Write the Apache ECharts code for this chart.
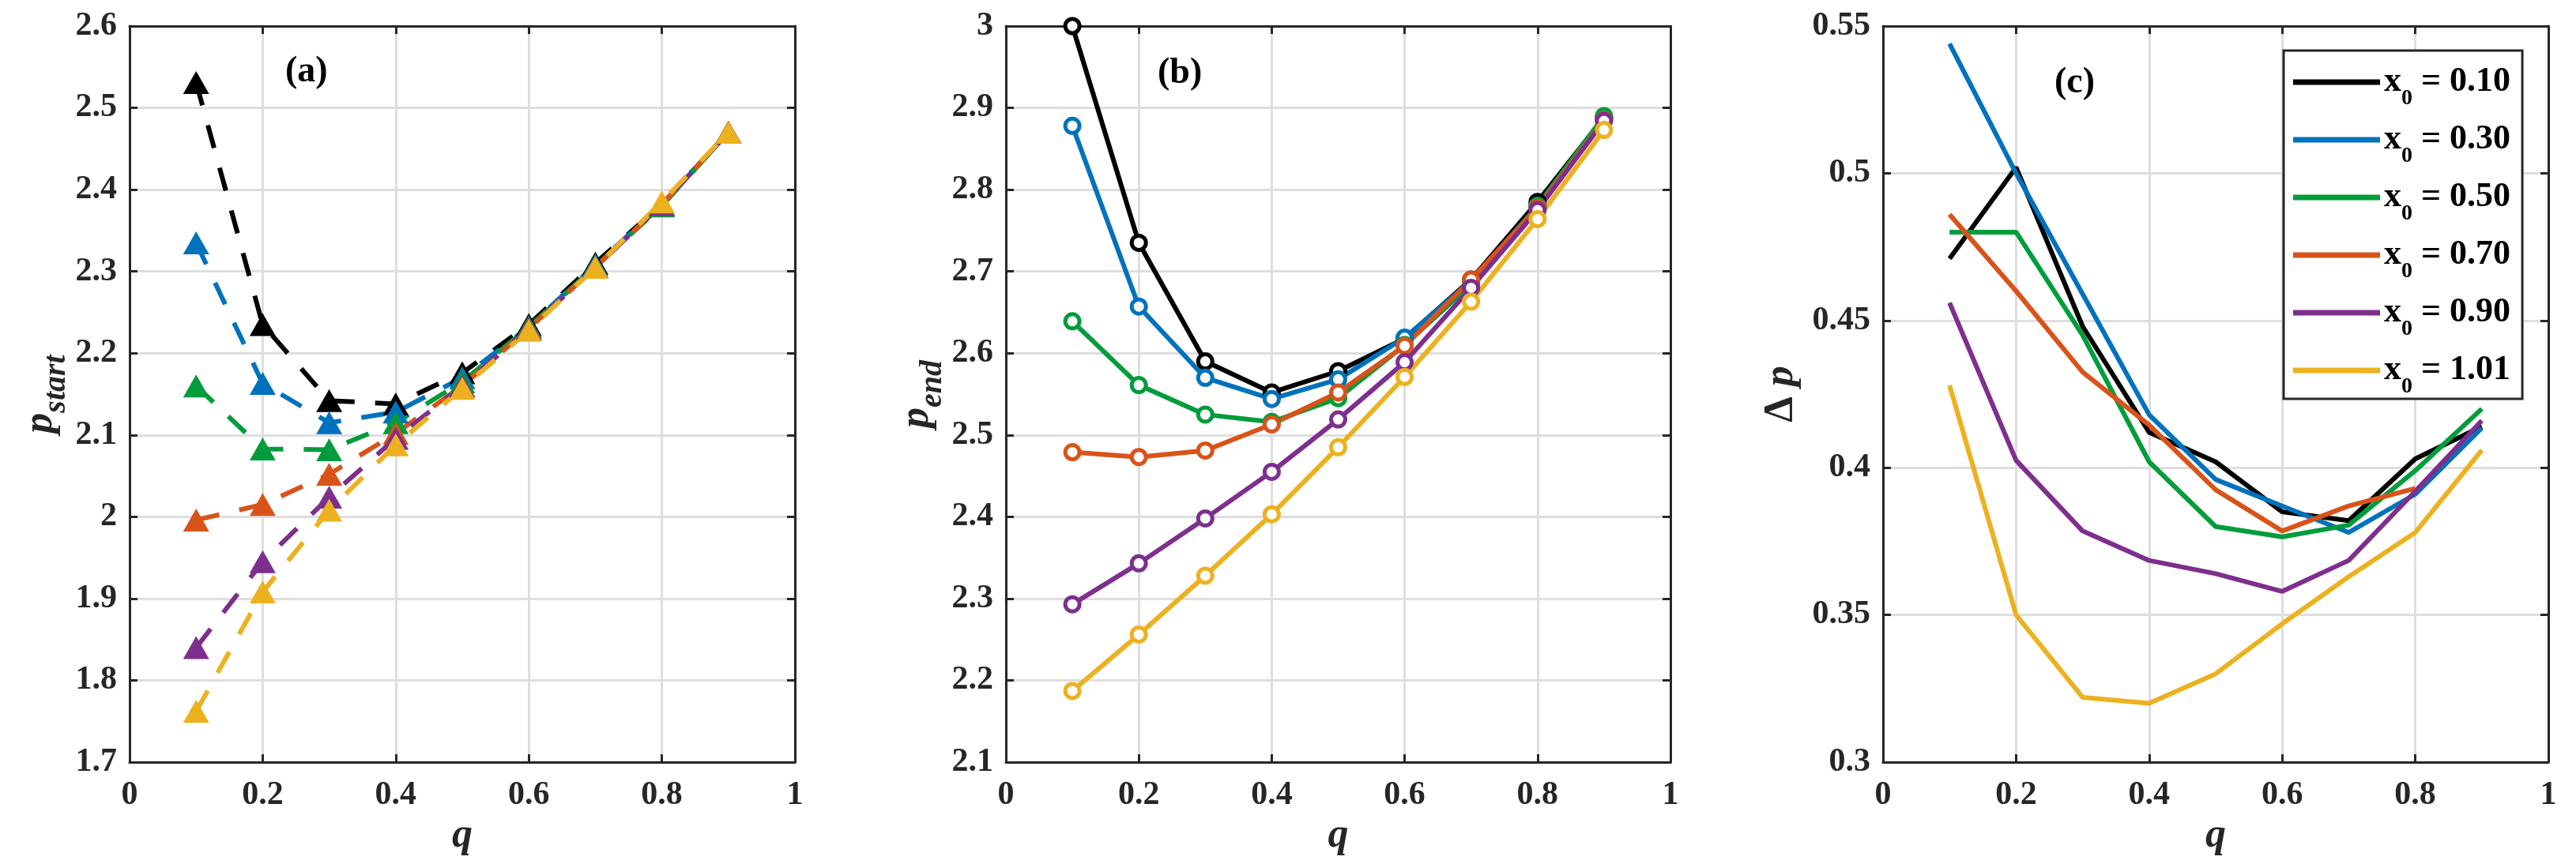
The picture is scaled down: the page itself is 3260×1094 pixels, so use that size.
<!DOCTYPE html>
<html>
<head>
<meta charset="utf-8">
<script src="https://cdn.jsdelivr.net/npm/echarts@6/dist/echarts.min.js"></script>
<style>
  html, body { margin: 0; padding: 0; background: #ffffff; }
  #chart { width: 3260px; height: 1094px; }
</style>
</head>
<body>
<div id="chart"></div>
<script>
// ---------- data ----------
const qValues = [0.1, 0.2, 0.3, 0.4, 0.5, 0.6, 0.7, 0.8, 0.9];
const x0Labels = ['0.10', '0.30', '0.50', '0.70', '0.90', '1.01'];

// (a) p_start
const pStart010 = [2.531, 2.235, 2.142, 2.138, 2.176, 2.235, 2.310, 2.382, 2.470];
const pStart030 = [2.335, 2.163, 2.115, 2.128, 2.170, 2.232, 2.308, 2.381, 2.470];
const pStart050 = [2.160, 2.083, 2.082, 2.115, 2.165, 2.232, 2.306, 2.380, 2.470];
const pStart070 = [1.996, 2.015, 2.052, 2.102, 2.160, 2.230, 2.305, 2.382, 2.470];
const pStart090 = [1.840, 1.945, 2.024, 2.096, 2.160, 2.230, 2.305, 2.382, 2.470];
const pStart101 = [1.762, 1.908, 2.008, 2.088, 2.157, 2.228, 2.305, 2.385, 2.470];

// (b) p_end
const pEnd010 = [3.000, 2.735, 2.590, 2.552, 2.578, 2.618, 2.690, 2.785, 2.888];
const pEnd030 = [2.878, 2.657, 2.570, 2.544, 2.568, 2.619, 2.688, 2.780, 2.887];
const pEnd050 = [2.639, 2.561, 2.525, 2.516, 2.545, 2.610, 2.684, 2.780, 2.890];
const pEnd070 = [2.479, 2.473, 2.481, 2.513, 2.552, 2.609, 2.690, 2.778, 2.885];
const pEnd090 = [2.293, 2.343, 2.398, 2.455, 2.519, 2.589, 2.680, 2.775, 2.884];
const pEnd101 = [2.187, 2.256, 2.328, 2.403, 2.485, 2.571, 2.663, 2.764, 2.873];

// (c) delta p
const dp010 = [0.471, 0.502, 0.448, 0.412, 0.402, 0.385, 0.382, 0.403, 0.414];
const dp030 = [0.544, 0.500, 0.459, 0.418, 0.396, 0.387, 0.378, 0.391, 0.4135];
const dp050 = [0.480, 0.480, 0.445, 0.402, 0.380, 0.3765, 0.3805, 0.399, 0.420];
const dp070 = [0.486, 0.460, 0.4325, 0.4145, 0.3925, 0.3785, 0.387, 0.393];
const dp090 = [0.456, 0.4025, 0.3785, 0.3685, 0.364, 0.358, 0.3685, 0.392, 0.416];
const dp101 = [0.428, 0.350, 0.322, 0.320, 0.330, 0.347, 0.363, 0.378, 0.406];

// ticks
const xTicks = [0, 0.2, 0.4, 0.6, 0.8, 1];
const xTickLabels = ['0', '0.2', '0.4', '0.6', '0.8', '1'];
const yTicksA = [1.7, 1.8, 1.9, 2.0, 2.1, 2.2, 2.3, 2.4, 2.5, 2.6];
const yTickLabelsA = ['1.7', '1.8', '1.9', '2', '2.1', '2.2', '2.3', '2.4', '2.5', '2.6'];
const yTicksB = [2.1, 2.2, 2.3, 2.4, 2.5, 2.6, 2.7, 2.8, 2.9, 3.0];
const yTickLabelsB = ['2.1', '2.2', '2.3', '2.4', '2.5', '2.6', '2.7', '2.8', '2.9', '3'];
const yTicksC = [0.3, 0.35, 0.4, 0.45, 0.5, 0.55];
const yTickLabelsC = ['0.3', '0.35', '0.4', '0.45', '0.5', '0.55'];

// ---------- styles ----------
const colors = ['#000000', '#0072BD', '#019C3B', '#D95319', '#7E2F8E', '#EDB120'];
const FONT = '"Liberation Serif", "Times New Roman", serif';
const AX = '#262626';

const startSets = [pStart010, pStart030, pStart050, pStart070, pStart090, pStart101];
const endSets = [pEnd010, pEnd030, pEnd050, pEnd070, pEnd090, pEnd101];
const dpSets = [dp010, dp030, dp050, dp070, dp090, dp101];

const grids = [
  { left: 164, top: 33, width: 842, height: 932 },
  { left: 1273, top: 33, width: 841, height: 932 },
  { left: 2383, top: 33, width: 842, height: 932 }
];

function labelFor(ticks, labels) {
  return function (v) {
    let best = 0, bd = Infinity;
    ticks.forEach((t, i) => { const d = Math.abs(t - v); if (d < bd) { bd = d; best = i; } });
    return bd < 1e-6 ? labels[best] : '';
  };
}

const tickStyle = { inside: true, length: 10, lineStyle: { color: AX, width: 3 } };
const lineAx = { show: true, onZero: false, lineStyle: { color: AX, width: 3 } };
const labelStyle = { fontFamily: FONT, fontWeight: 'bold', fontSize: 42, color: AX };

const xAxes = [], yAxes = [];
const yCfg = [
  { ticks: yTicksA, labels: yTickLabelsA, name: '{p|p}{s|start}', gap: 82 },
  { ticks: yTicksB, labels: yTickLabelsB, name: '{p|p}{s|end}', gap: 84 },
  { ticks: yTicksC, labels: yTickLabelsC, name: '{d|Δ }{p|p}', gap: 100 }
];
const nameRich = {
  p: { fontFamily: FONT, fontStyle: 'italic', fontWeight: 'bold', fontSize: 52, lineHeight: 56, color: AX },
  s: { fontFamily: FONT, fontStyle: 'italic', fontWeight: 'bold', fontSize: 40, lineHeight: 40, padding: [40, 0, 0, 0], color: AX },
  d: { fontFamily: FONT, fontWeight: 'bold', fontSize: 52, lineHeight: 56, color: AX }
};

grids.forEach((g, i) => {
  const yc = yCfg[i];
  const ymin = yc.ticks[0], ymax = yc.ticks[yc.ticks.length - 1];
  const yint = yc.ticks[1] - yc.ticks[0];
  xAxes.push({
    gridIndex: i, type: 'value', position: 'bottom', min: 0, max: 1, interval: 0.2,
    axisLine: lineAx, axisTick: tickStyle,
    axisLabel: Object.assign({ margin: 21, formatter: labelFor(xTicks, xTickLabels) }, labelStyle),
    splitLine: { show: true, lineStyle: { color: '#dedede', width: 3 } },
    name: 'q', nameLocation: 'middle', nameGap: 55,
    nameTextStyle: { fontFamily: FONT, fontStyle: 'italic', fontWeight: 'bold', fontSize: 52, color: AX }
  });
  xAxes.push({
    gridIndex: i, type: 'value', position: 'top', min: 0, max: 1, interval: 0.2,
    axisLine: lineAx, axisTick: tickStyle, axisLabel: { show: false }, splitLine: { show: false }
  });
  yAxes.push({
    gridIndex: i, type: 'value', position: 'left', min: ymin, max: ymax, interval: yint,
    axisLine: lineAx, axisTick: tickStyle,
    axisLabel: Object.assign({ margin: 16, formatter: labelFor(yc.ticks, yc.labels) }, labelStyle),
    splitLine: { show: true, lineStyle: { color: '#dedede', width: 3 } },
    name: yc.name, nameLocation: 'middle', nameGap: yc.gap, nameRotate: 90,
    nameTextStyle: { rich: nameRich }
  });
  yAxes.push({
    gridIndex: i, type: 'value', position: 'right', min: ymin, max: ymax, interval: yint,
    axisLine: lineAx, axisTick: tickStyle, axisLabel: { show: false }, splitLine: { show: false }
  });
});

function pairs(vals) { return vals.map((v, j) => [qValues[j], v]); }

const series = [];
startSets.forEach((vals, k) => {
  series.push({
    name: 'a' + k, type: 'line', xAxisIndex: 0, yAxisIndex: 0, data: pairs(vals),
    symbol: 'triangle', symbolSize: [33, 29], showSymbol: true,
    lineStyle: { color: colors[k], width: 6, type: [30, 26] },
    itemStyle: { color: colors[k] }, silent: true
  });
});
endSets.forEach((vals, k) => {
  series.push({
    name: 'b' + k, type: 'line', xAxisIndex: 2, yAxisIndex: 2, data: pairs(vals),
    symbol: 'circle', symbolSize: 18, showSymbol: true, clip: false,
    lineStyle: { color: colors[k], width: 6 },
    itemStyle: { color: '#ffffff', borderColor: colors[k], borderWidth: 5 }, silent: true
  });
});
dpSets.forEach((vals, k) => {
  series.push({
    name: 'x0 = ' + x0Labels[k], type: 'line', xAxisIndex: 4, yAxisIndex: 4, data: pairs(vals),
    symbol: 'none', showSymbol: false,
    lineStyle: { color: colors[k], width: 6 },
    itemStyle: { color: colors[k] }, silent: true
  });
});

const option = {
  backgroundColor: '#ffffff',
  animation: false,
  grid: grids,
  xAxis: xAxes,
  yAxis: yAxes,
  legend: {
    data: x0Labels.map(l => 'x0 = ' + l),
    orient: 'vertical', left: 2890, top: 64,
    padding: [5, 15, 1, 12], itemGap: 3,
    itemWidth: 110, itemHeight: 7, icon: 'rect',
    borderColor: AX, borderWidth: 3, backgroundColor: '#ffffff',
    selectedMode: false,
    formatter: function (name) { return '{x|x}{s|0}{r| = ' + name.split('= ')[1] + '}'; },
    textStyle: {
      fontFamily: FONT, fontWeight: 'bold', fontSize: 44, color: '#000',
      rich: {
        x: { fontFamily: FONT, fontWeight: 'bold', fontSize: 44, lineHeight: 50, color: '#000' },
        s: { fontFamily: FONT, fontWeight: 'bold', fontSize: 28, lineHeight: 28, padding: [42, 0, 0, 0], color: '#000' },
        r: { fontFamily: FONT, fontWeight: 'bold', fontSize: 44, lineHeight: 50, color: '#000' }
      }
    }
  },
  graphic: [
    { type: 'text', left: 396 - 35, top: 96 - 28, style: { text: '(a)', font: 'bold 46px ' + FONT, fill: '#000' } },
    { type: 'text', left: 1500 - 35, top: 98 - 28, style: { text: '(b)', font: 'bold 46px ' + FONT, fill: '#000' } },
    { type: 'text', left: 2633 - 33, top: 110 - 28, style: { text: '(c)', font: 'bold 46px ' + FONT, fill: '#000' } }
  ],
  series: series
};

const chart = echarts.init(document.getElementById('chart'), null, { renderer: 'canvas' });
chart.setOption(option);
</script>
</body>
</html>
